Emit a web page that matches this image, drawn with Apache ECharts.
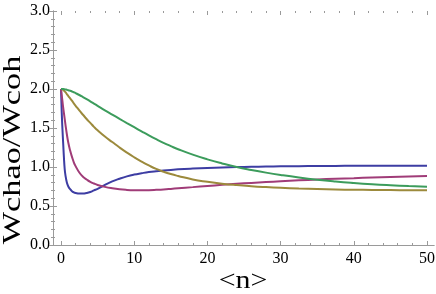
<!DOCTYPE html>
<html><head><meta charset="utf-8">
<script src="https://cdn.jsdelivr.net/npm/echarts@6/dist/echarts.min.js"></script>
<style>html,body{margin:0;padding:0;background:#fff}#c{width:436px;height:294px}</style>
</head><body><div id="c"></div>
<script>
const nVals  = [0, 0.1, 0.2, 0.3, 0.4, 0.5, 0.6, 0.8, 1, 1.25, 1.5, 1.75, 2, 2.5, 3, 3.5, 4, 4.5, 5, 6, 7, 8, 9, 10, 11, 12, 13, 14, 15, 16, 18, 20, 22, 24, 26, 28, 30, 32.5, 35, 37.5, 40, 42.5, 45, 47.5, 50];
const blue   = [2.0, 1.70, 1.48, 1.30, 1.12, 0.98, 0.90, 0.80, 0.75, 0.715, 0.69, 0.675, 0.667, 0.66, 0.66, 0.667, 0.68, 0.70, 0.72, 0.77, 0.815, 0.85, 0.88, 0.903, 0.92, 0.935, 0.946, 0.955, 0.963, 0.97, 0.98, 0.988, 0.994, 0.999, 1.003, 1.006, 1.009, 1.011, 1.013, 1.014, 1.015, 1.016, 1.016, 1.017, 1.017];
const purple = [2.0, 1.92, 1.84, 1.76, 1.69, 1.62, 1.55, 1.42, 1.31, 1.21, 1.13, 1.06, 1.01, 0.93, 0.875, 0.84, 0.81, 0.788, 0.77, 0.745, 0.727, 0.714, 0.706, 0.702, 0.701, 0.703, 0.707, 0.712, 0.719, 0.727, 0.742, 0.757, 0.771, 0.784, 0.796, 0.807, 0.817, 0.829, 0.84, 0.849, 0.857, 0.865, 0.872, 0.879, 0.885];
const olive  = [2.0, 1.998, 1.994, 1.988, 1.98, 1.97, 1.96, 1.935, 1.91, 1.88, 1.85, 1.815, 1.785, 1.725, 1.67, 1.615, 1.565, 1.515, 1.47, 1.39, 1.32, 1.25, 1.185, 1.125, 1.07, 1.02, 0.975, 0.94, 0.91, 0.885, 0.84, 0.81, 0.786, 0.768, 0.754, 0.743, 0.734, 0.725, 0.718, 0.712, 0.708, 0.706, 0.704, 0.703, 0.703];
const green  = [2.0, 2.0, 2.0, 1.999, 1.998, 1.996, 1.994, 1.99, 1.985, 1.977, 1.968, 1.958, 1.947, 1.923, 1.897, 1.87, 1.842, 1.813, 1.784, 1.727, 1.672, 1.617, 1.563, 1.51, 1.457, 1.405, 1.356, 1.31, 1.268, 1.228, 1.158, 1.098, 1.046, 1.0, 0.962, 0.928, 0.898, 0.865, 0.837, 0.814, 0.795, 0.779, 0.766, 0.755, 0.746];
const xTickLabels = [0, 10, 20, 30, 40, 50];
const yTickLabels = [0.0, 0.5, 1.0, 1.5, 2.0, 2.5, 3.0];
const xTitle = '<n>';
const yTitle = 'Wchao/Wcoh';

const chart = echarts.init(document.getElementById('c'));
const frameColor = '#9a9a9a';
const serif = 'Liberation Serif';
function pairs(ys){ return nVals.map((n,i)=>[n, ys[i]]); }
function hidden(){ return {show:false}; }
function tickIn(){ return {show:true, inside:true, length:4, lineStyle:{color:frameColor, width:1}}; }
function minorIn(){ return {show:true, splitNumber:5, length:2, lineStyle:{color:frameColor, width:1}}; }
function frameLine(){ return {show:true, lineStyle:{color:frameColor, width:1}}; }

chart.setOption({
  animation:false,
  grid:[
    {left:53, top:11, width:381, height:234},
    {left:61, top:11, width:366, height:234}
  ],
  xAxis:[
    {gridIndex:0, type:'value', min:0, max:1, position:'bottom', axisLine:frameLine(), axisTick:hidden(), axisLabel:hidden(), splitLine:hidden()},
    {gridIndex:0, type:'value', min:0, max:1, position:'top', axisLine:frameLine(), axisTick:hidden(), axisLabel:hidden(), splitLine:hidden()},
    {gridIndex:1, type:'value', min:0, max:50, interval:10, position:'bottom', axisLine:hidden(), axisTick:tickIn(), minorTick:minorIn(), axisLabel:hidden(), splitLine:hidden()},
    {gridIndex:1, type:'value', min:0, max:50, interval:10, position:'top', axisLine:hidden(), axisTick:tickIn(), minorTick:minorIn(), axisLabel:hidden(), splitLine:hidden()}
  ],
  yAxis:[
    {gridIndex:0, type:'value', min:0, max:3, interval:0.5, position:'left', axisLine:frameLine(), axisTick:tickIn(), minorTick:minorIn(), axisLabel:hidden(), splitLine:hidden()},
    {gridIndex:0, type:'value', min:0, max:3, interval:0.5, position:'right', axisLine:frameLine(), axisTick:tickIn(), minorTick:minorIn(), axisLabel:hidden(), splitLine:hidden()},
    {gridIndex:1, type:'value', min:0, max:3, show:false}
  ],
  series:[
    {name:'a', type:'line', xAxisIndex:2, yAxisIndex:2, data:pairs(blue), smooth:true, showSymbol:false, lineStyle:{color:'#3d3da3', width:2}},
    {name:'b', type:'line', xAxisIndex:2, yAxisIndex:2, data:pairs(purple), smooth:true, showSymbol:false, lineStyle:{color:'#a03c78', width:2}},
    {name:'c', type:'line', xAxisIndex:2, yAxisIndex:2, data:pairs(olive), smooth:true, showSymbol:false, lineStyle:{color:'#9c8a3c', width:2}},
    {name:'d', type:'line', xAxisIndex:2, yAxisIndex:2, data:pairs(green), smooth:true, showSymbol:false, lineStyle:{color:'#3c9c5c', width:2}}
  ]
});

// Tick labels and axis titles as text, positioned through the library's own axis scales
const g = [];
xTickLabels.forEach(v => {
  const p = chart.convertToPixel({xAxisIndex:2, yAxisIndex:2}, [v, 0]);
  g.push({type:'text', x:p[0], y:p[1] + 6, style:{text:String(v), fontFamily:serif, fontSize:16, fill:'#000', align:'center', verticalAlign:'top'}});
});
yTickLabels.forEach(v => {
  const p = chart.convertToPixel({xAxisIndex:0, yAxisIndex:0}, [0, v]);
  g.push({type:'text', x:p[0] - 3, y:p[1], style:{text:v.toFixed(1), fontFamily:serif, fontSize:16, fill:'#000', align:'right', verticalAlign:'middle'}});
});
const mid = chart.convertToPixel({xAxisIndex:2, yAxisIndex:2}, [25, 0]);
const yMid = chart.convertToPixel({xAxisIndex:0, yAxisIndex:0}, [0, 1.5]);
g.push({type:'text', x:mid[0] - 1, y:mid[1] + 36, style:{text:xTitle, fontFamily:serif, fontSize:26, fill:'#000', align:'center', verticalAlign:'middle'}, scaleX:1.15});
g.push({type:'text', x:yMid[0] - 40, y:yMid[1] + 22, rotation:Math.PI/2, style:{text:yTitle, fontFamily:serif, fontSize:26, fill:'#000', align:'center', verticalAlign:'middle'}, scaleX:1.32});
chart.setOption({graphic:g});
</script></body></html>
